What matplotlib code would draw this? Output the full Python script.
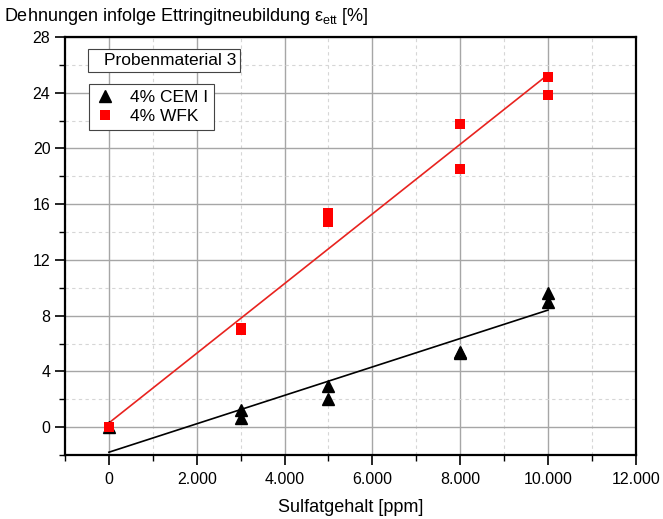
import matplotlib
matplotlib.use("Agg")
import matplotlib.pyplot as plt
from matplotlib.patches import Rectangle
from matplotlib.ticker import MultipleLocator, FuncFormatter

plt.rcParams["font.family"] = ["Liberation Sans", "DejaVu Sans"]
plt.rcParams["mathtext.fontset"] = "custom"
plt.rcParams["mathtext.rm"] = "Liberation Sans"

# measured points
cem_x = [0, 3000, 3000, 5000, 5000, 8000, 8000, 10000, 10000]
cem_y = [0.0, 1.2, 0.65, 2.95, 2.0, 5.4, 5.3, 9.65, 8.95]
wfk_x = [0, 3000, 3000, 5000, 5000, 8000, 8000, 10000, 10000]
wfk_y = [0.0, 7.15, 6.95, 15.35, 14.7, 21.75, 18.5, 25.15, 23.85]

# regression lines (endpoints)
cem_fit_x = [0, 10000]
cem_fit_y = [-1.8, 8.4]
wfk_fit_x = [0, 10000]
wfk_fit_y = [0.3, 25.3]

fig = plt.figure(figsize=(6.63, 5.19), dpi=100)
ax = fig.add_axes([0.098, 0.1233, 0.861, 0.8054])

ax.set_xlim(-1000, 12000)
ax.set_ylim(-2, 28)

ax.xaxis.set_major_locator(MultipleLocator(2000))
ax.xaxis.set_minor_locator(MultipleLocator(1000))
ax.yaxis.set_major_locator(MultipleLocator(4))
ax.yaxis.set_minor_locator(MultipleLocator(2))
ax.xaxis.set_major_formatter(FuncFormatter(lambda v, p: f"{int(v):,}".replace(",", ".")))

ax.grid(which="major", color="#a6a6a6", linewidth=1.0, linestyle="-")
ax.grid(which="minor", color="#d6d6d6", linewidth=0.8, linestyle=(0, (3, 3)))
ax.set_axisbelow(True)

for spine in ax.spines.values():
    spine.set_linewidth(1.6)
    spine.set_color("black")

ax.tick_params(which="major", direction="out", length=7, width=1.2, labelsize=11.5, colors="black")
ax.tick_params(which="minor", direction="out", length=4, width=1.0)
ax.tick_params(axis="x", pad=5)

ax.plot(wfk_fit_x, wfk_fit_y, color="#e8231f", linewidth=1.2, zorder=3)
ax.plot(cem_fit_x, cem_fit_y, color="black", linewidth=1.2, zorder=3)

ax.plot(cem_x, cem_y, linestyle="none", marker="^", markersize=8.5, color="black",
        label="4% CEM I", zorder=4)
ax.plot(wfk_x, wfk_y, linestyle="none", marker="s", markersize=6.5, color="#ff0000",
        markeredgewidth=0, label="4% WFK", zorder=5)

# "Probenmaterial 3" label box
ax.add_patch(Rectangle((0.0403, 0.9163), 0.266, 0.055, transform=ax.transAxes,
                       facecolor="white", edgecolor="#444444", linewidth=0.8, zorder=6))
ax.text(0.0683, 0.9438, "Probenmaterial 3", transform=ax.transAxes, fontsize=12.5,
        va="center", ha="left", zorder=7)

leg = ax.legend(loc="upper left", bbox_to_anchor=(0.042, 0.8876), borderaxespad=0,
                fontsize=12.5, fancybox=False, framealpha=1, edgecolor="#444444",
                handletextpad=0.8, borderpad=0.35, labelspacing=0.2, handlelength=1.2)
leg.get_frame().set_linewidth(0.8)

ax.set_xlabel("Sulfatgehalt [ppm]", fontsize=13, labelpad=9)
fig.text(0.006, 0.968, r"Dehnungen infolge Ettringitneubildung $\mathrm{ε}_{\mathrm{ett}}$ [%]",
         fontsize=13, ha="left", va="center")

fig.savefig("out.png", dpi=100)
